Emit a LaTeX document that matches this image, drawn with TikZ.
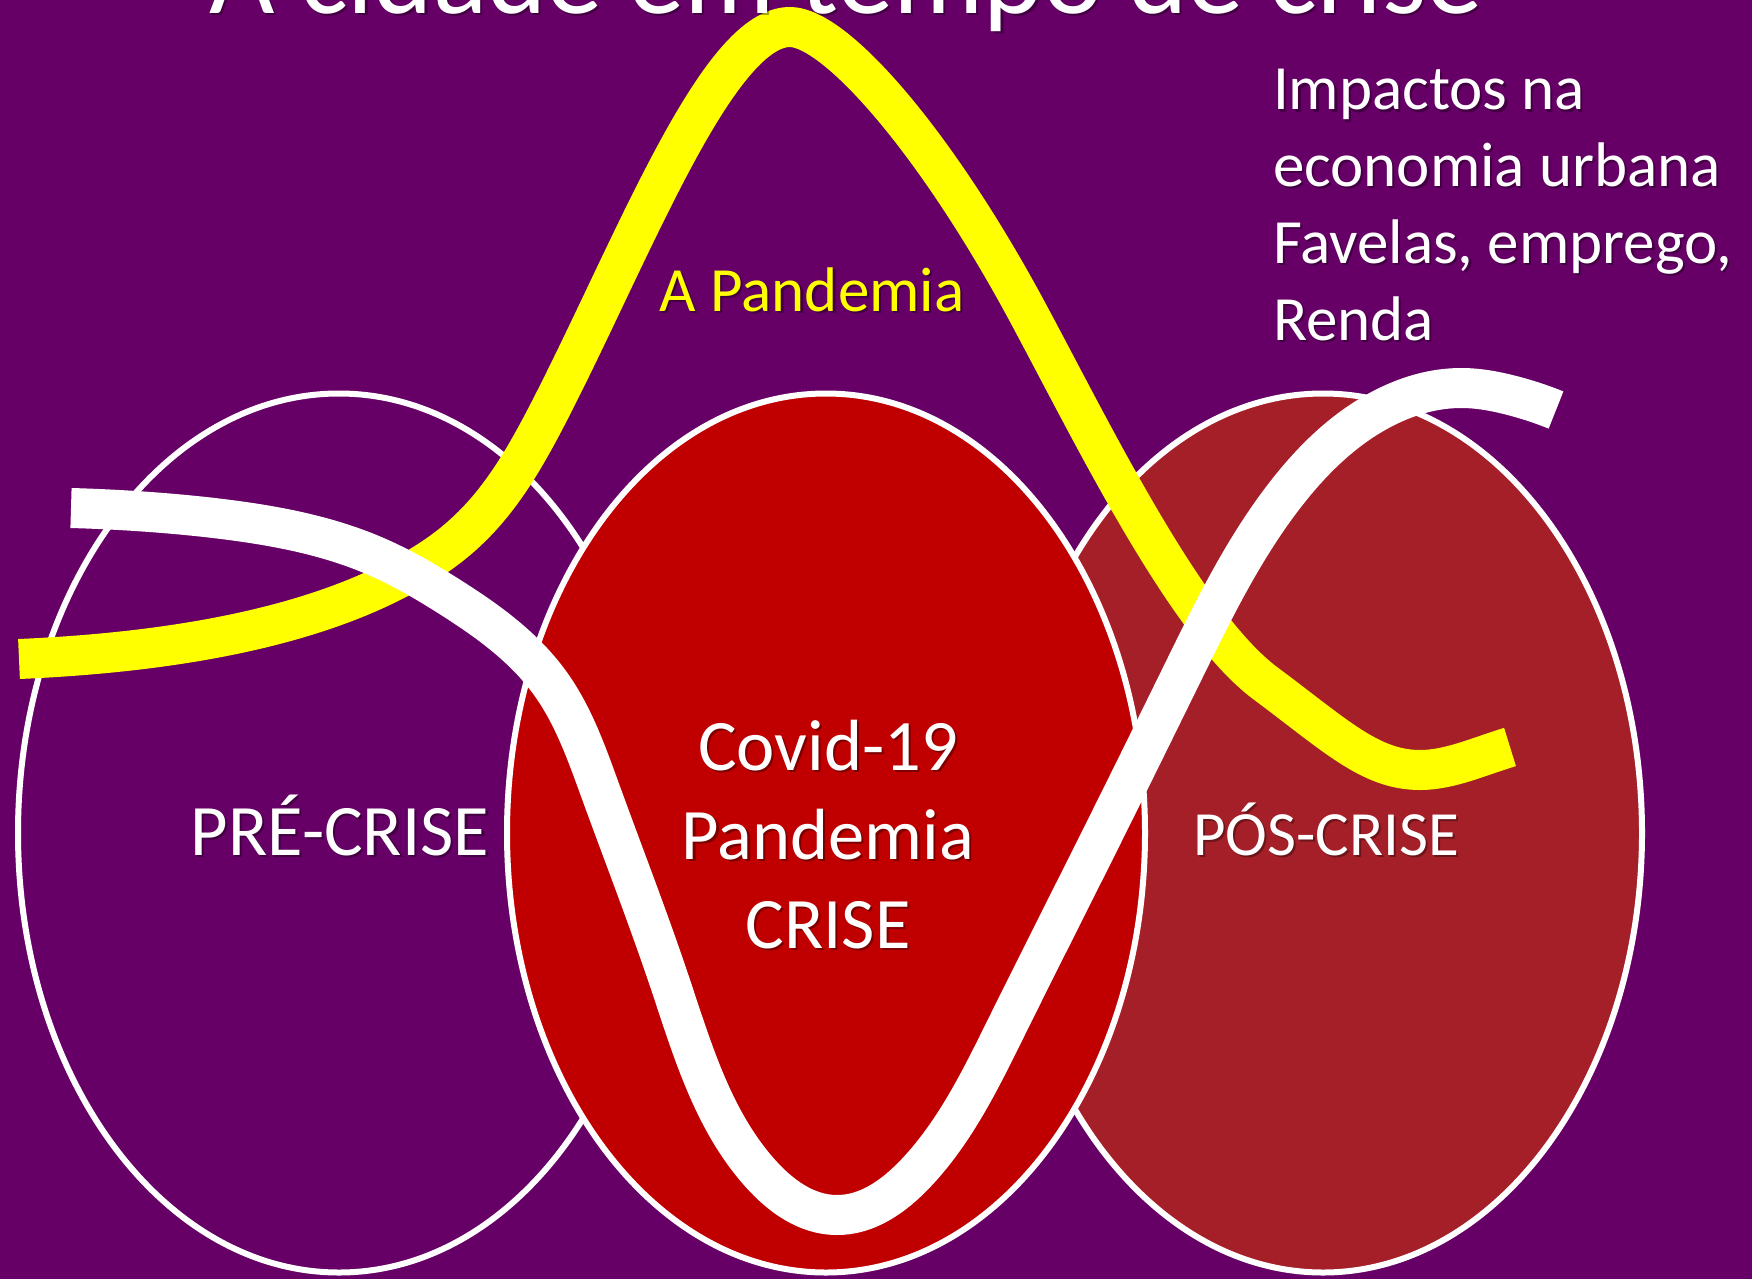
\documentclass[tikz,border=0pt]{standalone}
\usepackage{fontspec}
\setmainfont{Carlito}
\usetikzlibrary{hobby}
\definecolor{bgpurple}{HTML}{660066}
\definecolor{crisisred}{HTML}{C00000}
\definecolor{afterred}{HTML}{A51F28}
\definecolor{bandyellow}{HTML}{FFFF00}

% a label with a soft drop shadow: name, position, options, text
\newcommand\castlabel[4]{%
  \node[#3, text=black, text opacity=0.35, xshift=2.2pt, yshift=-2.2pt] (#1-shadow) at (#2) {#4};
  \node[#3] (#1) at (#2) {#4};}

\begin{document}
\begin{tikzpicture}[x=1pt, y=-1pt,
  phase/.style={draw=white, line width=6pt},
  band/.style={line width=40pt, line cap=butt, line join=round},
  lbl/.style={text=white, inner sep=0pt, outer sep=0pt},
  big/.style={font=\fontsize{72.5}{89}\selectfont},
  mid/.style={font=\fontsize{63}{76.7}\selectfont}]

\clip (0,0) rectangle (1752,1279);
\fill[bgpurple] (0,0) rectangle (1752,1279);

% the three phases
\draw[phase, fill=bgpurple] (339,833) ellipse [x radius=321, y radius=439.5];
\draw[phase, fill=afterred] (1323,833) ellipse [x radius=319, y radius=439.5];
\draw[phase, fill=crisisred] (826,833) ellipse [x radius=319, y radius=439.5];

% course of the pandemic
\draw[band, bandyellow] (19,659)
  .. controls (180,652) and (330,625) .. (430,560)
  .. controls (490,521) and (520,470) .. (560,390)
  .. controls (640,230) and (720,27) .. (790,27)
  .. controls (835,27) and (935,140) .. (1028,313)
  .. controls (1093,434) and (1185,623) .. (1265,683)
  .. controls (1335,735) and (1370,770) .. (1420,770)
  .. controls (1450,770) and (1480,756) .. (1510,747);

% course of the city
\draw[band, white, use Hobby shortcut] (71,508) .. (150,512) .. (230,520) .. (375,556)
  .. (450,597) .. (550,683) .. (600,790) .. (670,983) .. (760,1173)
  .. (836,1215) .. (916,1173) .. (1006,1028) .. (1100,840) .. (1184,670)
  .. (1285,495) .. (1380,410) .. (1462,388) .. (1510,395) .. (1556,410);

% texts
\castlabel{title}{846,13.3}{lbl, anchor=base, font=\fontsize{113}{136}\selectfont}{A cidade em tempo de crise}
\castlabel{pandemia}{812,311.7}{lbl, anchor=base, mid, text=bandyellow}{A Pandemia}
\castlabel{impactos}{1273,69.5}{lbl, anchor=north west, mid, align=left}{Impactos na\\economia urbana\\Favelas, emprego,\\Renda}
\castlabel{pre}{340,855}{lbl, anchor=base, big}{PRÉ-CRISE}
\castlabel{crise}{828,720}{lbl, anchor=north, big, align=center}{Covid-19\\Pandemia\\CRISE}
\castlabel{pos}{1326,855}{lbl, anchor=base, mid}{PÓS-CRISE}
\end{tikzpicture}
\end{document}
